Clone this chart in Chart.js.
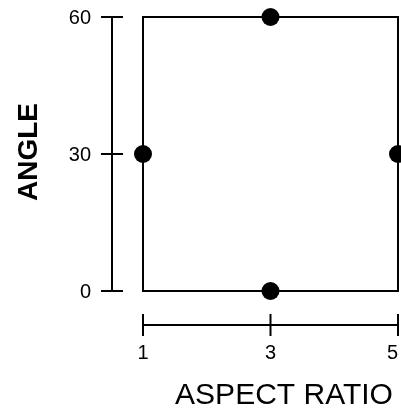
<!DOCTYPE html>
<html>
<head>
<meta charset="utf-8">
<script src="https://cdn.jsdelivr.net/npm/chart.js@4/dist/chart.umd.min.js"></script>
<style>
    html, body { margin: 0; padding: 0; background: #fff; }
    #chart { display: block; }
</style>
</head>
<body>
<canvas id="chart" width="401" height="416"></canvas>
<script>
// Data
const aspectRatio = [1, 3, 3, 5];
const angle = [30, 60, 0, 30];

// Tick labels
const xTicks = [1, 3, 5];
const yTicks = [0, 30, 60];

const xTitle = 'ASPECT RATIO';
const yTitle = 'ANGLE';

const fontFamily = "'Liberation Sans', Arial, Helvetica, sans-serif";

// Box around the plot area plus detached axes drawn from the chart's scales
const rangeFramePlugin = {
    id: 'rangeFrame',
    beforeDatasetsDraw(chart) {
        const ctx = chart.ctx;
        const area = chart.chartArea;
        ctx.save();
        ctx.strokeStyle = '#000';
        ctx.lineWidth = 2;
        ctx.strokeRect(area.left, area.top, area.right - area.left, area.bottom - area.top);
        ctx.restore();
    },
    afterDraw(chart) {
        const ctx = chart.ctx;
        const xs = chart.scales.x;
        const ys = chart.scales.y;
        const axisX = 112;   // left axis line
        const axisY = 325;   // bottom axis line
        const half = 11;     // tick half length

        ctx.save();
        ctx.strokeStyle = '#000';
        ctx.fillStyle = '#000';
        ctx.lineWidth = 2;

        // left axis
        ctx.beginPath();
        ctx.moveTo(axisX, ys.getPixelForValue(yTicks[0]));
        ctx.lineTo(axisX, ys.getPixelForValue(yTicks[yTicks.length - 1]));
        yTicks.forEach(v => {
            const py = ys.getPixelForValue(v);
            ctx.moveTo(axisX - half, py);
            ctx.lineTo(axisX + half, py);
        });
        ctx.stroke();

        ctx.font = '20px ' + fontFamily;
        ctx.textAlign = 'right';
        ctx.textBaseline = 'middle';
        yTicks.forEach(v => {
            ctx.fillText(String(v), 91, ys.getPixelForValue(v) + 1);
        });

        // bottom axis
        ctx.beginPath();
        ctx.moveTo(xs.getPixelForValue(xTicks[0]), axisY);
        ctx.lineTo(xs.getPixelForValue(xTicks[xTicks.length - 1]), axisY);
        xTicks.forEach(v => {
            const px = xs.getPixelForValue(v);
            ctx.moveTo(px, axisY - half);
            ctx.lineTo(px, axisY + half);
        });
        ctx.stroke();

        ctx.textAlign = 'center';
        ctx.textBaseline = 'middle';
        xTicks.forEach(v => {
            const label = String(v);
            const w = ctx.measureText(label).width;
            // keep the last label inside the canvas
            const px = Math.min(xs.getPixelForValue(v), chart.width - 3 - w / 2);
            ctx.fillText(label, px, 353);
        });

        // axis titles
        ctx.font = '30px ' + fontFamily;
        ctx.fillText(xTitle, 284, 396);

        ctx.save();
        ctx.translate(28, 152);
        ctx.rotate(-Math.PI / 2);
        ctx.font = 'bold 28px ' + fontFamily;
        ctx.fillText(yTitle, 0, 1);
        ctx.restore();

        ctx.restore();
    }
};

const points = aspectRatio.map((x, i) => ({ x: x, y: angle[i] }));

new Chart(document.getElementById('chart').getContext('2d'), {
    type: 'scatter',
    data: {
        datasets: [{
            data: points,
            backgroundColor: '#000',
            borderColor: '#000',
            borderWidth: 0,
            pointRadius: 9,
            clip: false
        }]
    },
    options: {
        responsive: false,
        animation: false,
        layout: {
            autoPadding: false,
            padding: { left: 143, right: 3, top: 17, bottom: 125 }
        },
        scales: {
            x: { type: 'linear', min: 1, max: 5, display: false },
            y: { type: 'linear', min: 0, max: 60, display: false }
        },
        plugins: {
            legend: { display: false },
            tooltip: { enabled: false }
        }
    },
    plugins: [rangeFramePlugin]
});
</script>
</body>
</html>
